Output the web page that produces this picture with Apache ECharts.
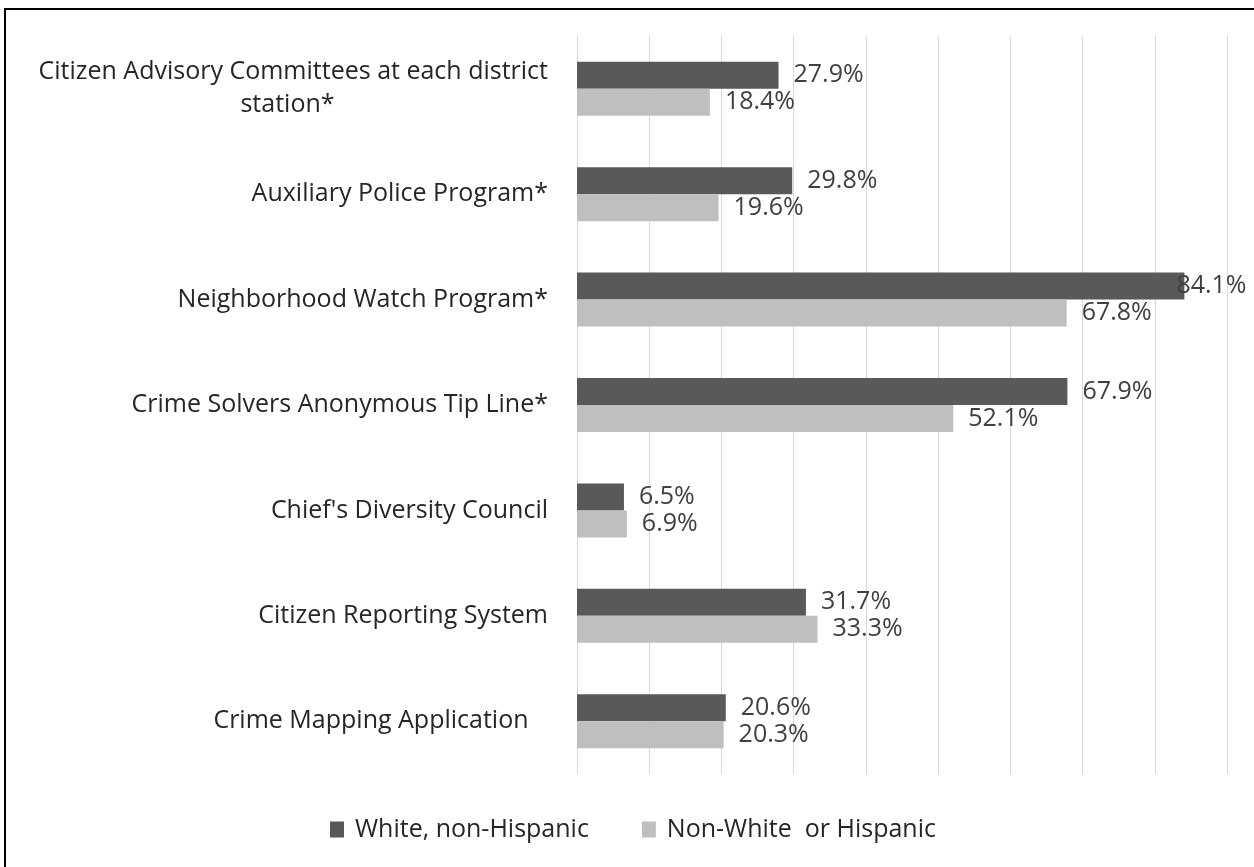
<!DOCTYPE html>
<html>
<head>
<meta charset="utf-8">
<script src="https://cdn.jsdelivr.net/npm/echarts@6/dist/echarts.min.js"></script>
<style>
  html, body { margin: 0; padding: 0; background: #fff; }
  #chart { width: 1254px; height: 867px; }
</style>
</head>
<body>
<div id="chart"></div>
<script>
const categories = [
  'Citizen Advisory Committees at each district\nstation*',
  'Auxiliary Police Program*',
  'Neighborhood Watch Program*',
  'Crime Solvers Anonymous Tip Line*',
  "Chief's Diversity Council",
  'Citizen Reporting System',
  'Crime Mapping Application   '
]
const whiteValues = [27.9, 29.8, 84.1, 67.9, 6.5, 31.7, 20.6]
const nonWhiteValues = [18.4, 19.6, 67.8, 52.1, 6.9, 33.3, 20.3]
const seriesNames = ['White, non-Hispanic', 'Non-White  or Hispanic']

const font = 'Open Sans'
const axisMax = 90

// Excel centres wrapped lines, single lines sit right against the axis
const labelFormatter = (value) => {
  const parts = value.split('\n')
  if (parts.length === 1) return '{a|' + value + '}'
  return '{a|' + parts[0] + '}\n{c|' + parts[1] + '}'
}

const valueLabel = {
  show: true,
  position: 'right',
  distance: 15,
  color: '#404040',
  fontFamily: font,
  fontSize: 25,
  formatter: (p) => p.value.toFixed(1) + '%'
}

// labels that would run off the right edge get pulled back over the bar
const toData = (values) => values.map((v) =>
  v > 80 ? { value: v, label: { offset: [-23, 0] } } : v
)

const chart = echarts.init(document.getElementById('chart'))
chart.setOption({
  animation: false,
  backgroundColor: '#fff',
  textStyle: { fontFamily: font },
  graphic: [{
    type: 'rect',
    shape: { x: 5, y: 9, width: 1260, height: 870 },
    style: { fill: 'none', stroke: '#000', lineWidth: 2 },
    silent: true
  }],
  legend: {
    top: 817,
    left: 330,
    padding: 0,
    itemWidth: 14,
    itemHeight: 16,
    itemGap: 53,
    icon: 'rect',
    textStyle: { fontFamily: font, fontSize: 25, color: '#262626', padding: [0, 0, 0, 6] },
    data: seriesNames
  },
  grid: {
    left: 577,
    width: 650,
    top: 36,
    height: 738,
    containLabel: false
  },
  xAxis: {
    type: 'value',
    min: 0,
    max: axisMax,
    interval: 10,
    axisLabel: { show: false },
    axisLine: { show: false },
    axisTick: { show: false },
    splitLine: { lineStyle: { color: '#d9d9d9', width: 1 } }
  },
  yAxis: {
    type: 'category',
    inverse: true,
    data: categories,
    axisLine: { show: false },
    axisTick: { show: false },
    axisLabel: {
      margin: 29,
      formatter: labelFormatter,
      rich: {
        a: { fontFamily: font, fontSize: 25, color: '#262626', lineHeight: 33 },
        c: { fontFamily: font, fontSize: 25, color: '#262626', lineHeight: 33, width: 521, align: 'center' }
      }
    }
  },
  series: [
    {
      name: seriesNames[0],
      type: 'bar',
      data: toData(whiteValues),
      barWidth: 27,
      barGap: '0%',
      itemStyle: { color: '#595959' },
      label: valueLabel
    },
    {
      name: seriesNames[1],
      type: 'bar',
      data: toData(nonWhiteValues),
      barWidth: 27,
      barGap: '0%',
      itemStyle: { color: '#bfbfbf' },
      label: valueLabel
    }
  ]
})
</script>
</body>
</html>
